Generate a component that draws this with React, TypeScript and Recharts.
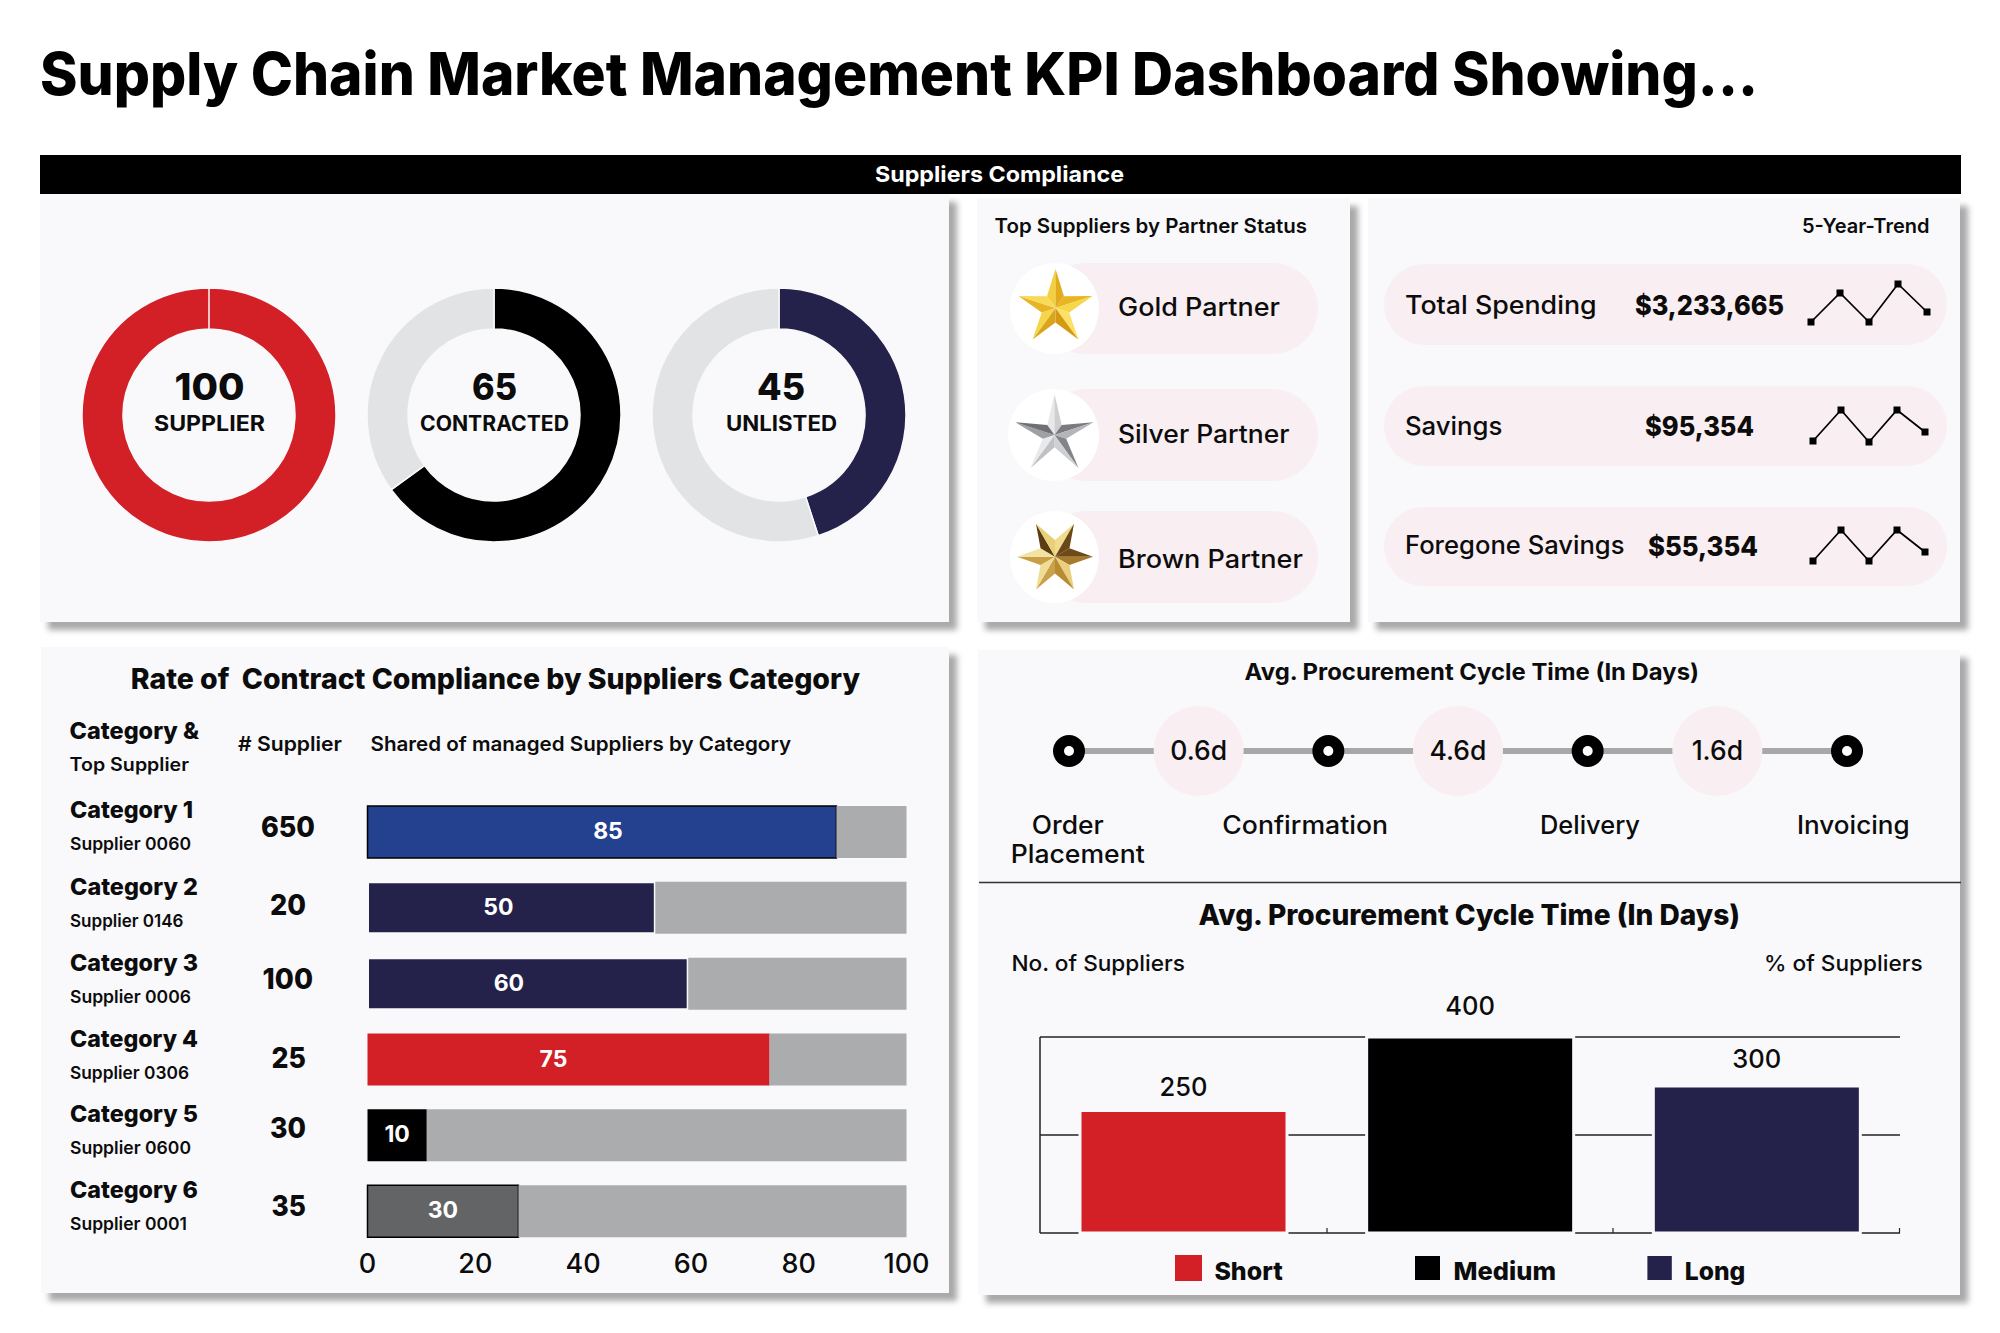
import React from 'react';
import { PieChart, Pie, Cell, BarChart, Bar, XAxis, YAxis, CartesianGrid, LabelList, LineChart, Line } from 'recharts';

// ---- data ----
const titleText = 'Supply Chain Market Management KPI Dashboard Showing...';
const supplierShare = [100];
const contractedShare = [65, 35];
const unlistedShare = [45, 55];

const trendYears = ['Y1', 'Y2', 'Y3', 'Y4', 'Y5'];
const spendingTrend = [8, 37, 8, 46, 18];
const savingsTrend = [9, 40, 8, 40, 18];
const foregoneTrend = [9, 40, 9, 40, 18];

const categories = ['Category 1', 'Category 2', 'Category 3', 'Category 4', 'Category 5', 'Category 6'];
const topSuppliers = ['Supplier 0060', 'Supplier 0146', 'Supplier 0006', 'Supplier 0306', 'Supplier 0600', 'Supplier 0001'];
const supplierCounts = ['650', '20', '100', '25', '30', '35'];
const complianceLabels = [85, 50, 60, 75, 10, 30];
const complianceDrawn = [87, 53.4, 59.5, 74.6, 11, 28];
const complianceRest = [13, 46.6, 40.5, 25.4, 89, 72];
const complianceTicks = [0, 20, 40, 60, 80, 100];

const stageNames = ['Order Placement', 'Confirmation', 'Delivery', 'Invoicing'];
const stageLags = ['0.6d', '4.6d', '1.6d'];

const cycleNames = ['Short', 'Medium', 'Long'];
const cycleValues = [250, 400, 300];
const cycleTicks = [0, 200, 400];

// ---- styles ----
const FONT = 'Inter, "Open Sans", sans-serif';
const RED = '#d31f26';
const NAVY = '#24214a';
const BLUE = '#24418f';
const GREY = '#aaacae';
const RING = '#e1e3e5';
const PANEL = '#f9f9fc';
const PINK = '#f9eef1';
const INK = '#0c0c0c';
const complianceColors = [BLUE, NAVY, NAVY, RED, '#000000', '#636466'];
const complianceOutline = ['#000', PANEL, PANEL, 'none', 'none', '#000'];
const complianceOutlineWidth = [1.5, 3, 3, 0, 0, 1.5];
const complianceLabelNudge = [6, -13, -19, -15, 0, 0];
const cycleColors = [RED, '#000000', NAVY];
const cycleLabelRaise = [15, 22, 18];
const goldFacets = ['#f4d03f', '#e0ab1f', '#e8b623', '#f6d64a', '#ffe066', '#d49a14', '#d9a51c', '#f5d54a', '#e8b425', '#f7da55'];
const silverFacets = ['#e8e8ea', '#cfcfd2', '#7a7b7e', '#b4b5b8', '#838487', '#cfd0d3', '#c0c1c4', '#e9e9eb', '#9fa0a3', '#6f7073'];
const brownFacets = ['#6d4a16', '#a87a2c', '#e9cf7e', '#b88b33', '#c9a14a', '#f0dd94', '#c99e45', '#f3e3a0', '#5a3d10', '#e8d079', '#f0db8f', '#6a4815'];

const complianceTable = categories.map((name, i) => ({
  name,
  drawn: complianceDrawn[i],
  rest: complianceRest[i],
  label: complianceLabels[i],
}));
const cycleTable = cycleNames.map((name, i) => ({ name, value: cycleValues[i] }));
const stageTable = stageNames.flatMap((name, i) => {
  const node = { name, level: 1, lag: '' };
  return i < stageLags.length ? [node, { name: stageLags[i], level: 1, lag: stageLags[i] }] : [node];
});
const toTrend = (values: number[]) => trendYears.map((year, i) => ({ year, value: values[i] }));

const box = (x0: number, y0: number, x1: number, y1: number): React.CSSProperties => ({
  position: 'absolute', left: x0, top: y0, width: x1 - x0, height: y1 - y0,
});

function Panel({ r }: { r: number[] }) {
  return <div style={{ ...box(r[0], r[1], r[2], r[3]), background: PANEL, boxShadow: '8px 8px 6px #a9a9a9' }} />;
}
function Pill({ r }: { r: number[] }) {
  return <div style={{ ...box(r[0], r[1], r[2], r[3]), background: PINK, borderRadius: 46 }} />;
}

function T({ x, y, w, s, b = 600, fill = INK, children }: any) {
  return (
    <text x={x} y={y} fontSize={s} fontWeight={b} fill={fill} fontFamily={FONT}
      textLength={w} lengthAdjust="spacingAndGlyphs">
      {children}
    </text>
  );
}

function Donut({ cx, data, colors }: { cx: number; data: number[]; colors: string[] }) {
  const rows = data.map((value, i) => ({ name: String(i), value }));
  return (
    <div style={{ position: 'absolute', left: cx - 140, top: 275 }}>
      <PieChart width={280} height={280} margin={{ top: 0, right: 0, bottom: 0, left: 0 }}>
        <Pie data={rows} dataKey="value" cx={140} cy={140} innerRadius={86} outerRadius={127}
          startAngle={90} endAngle={-270} stroke={PANEL} strokeWidth={1.5} isAnimationActive={false}>
          {rows.map((_, i) => <Cell key={i} fill={colors[i]} />)}
        </Pie>
      </PieChart>
    </div>
  );
}

const SquareDot = (p: any) => (
  <rect key={p.index} x={p.cx - 3.5} y={p.cy - 3.5} width={7} height={7} fill="#000" />
);

function Spark({ left, top, width, values }: { left: number; top: number; width: number; values: number[] }) {
  return (
    <div style={{ position: 'absolute', left: left - 6, top }}>
      <LineChart width={width + 12} height={60} data={toTrend(values)} margin={{ top: 0, right: 6, bottom: 0, left: 6 }}>
        <XAxis dataKey="year" hide />
        <YAxis hide domain={[0, 60]} />
        <Line dataKey="value" stroke="#000" strokeWidth={1.7} dot={SquareDot} activeDot={false} isAnimationActive={false} />
      </LineChart>
    </div>
  );
}

const StageDot = (p: any) => {
  const lag = p.payload.lag;
  if (lag) {
    return (
      <g key={p.index}>
        <circle cx={p.cx} cy={p.cy} r={45} fill={PINK} />
        <text x={p.cx} y={p.cy + 9} textAnchor="middle" fontSize={26.5} fontWeight={500} fill={INK} fontFamily={FONT}>{lag}</text>
      </g>
    );
  }
  return (
    <g key={p.index}>
      <circle cx={p.cx} cy={p.cy} r={16} fill="#000" />
      <circle cx={p.cx} cy={p.cy} r={5} fill="#fff" />
    </g>
  );
};

function Star({ cx, cy, R, inner, points, rot, facets }: any) {
  const n = points;
  const rIn = R * inner;
  const out: React.ReactNode[] = [];
  for (let i = 0; i < n; i++) {
    const a = rot + (i * 2 * Math.PI) / n;
    const a0 = a - Math.PI / n;
    const a1 = a + Math.PI / n;
    const tip = `${cx + R * Math.cos(a)},${cy + R * Math.sin(a)}`;
    const l = `${cx + rIn * Math.cos(a0)},${cy + rIn * Math.sin(a0)}`;
    const r = `${cx + rIn * Math.cos(a1)},${cy + rIn * Math.sin(a1)}`;
    const c = `${cx},${cy}`;
    out.push(<polygon key={`${i}a`} points={`${c} ${tip} ${l}`} fill={facets[2 * i]} />);
    out.push(<polygon key={`${i}b`} points={`${c} ${tip} ${r}`} fill={facets[2 * i + 1]} />);
  }
  return <g>{out}</g>;
}

const CycleLabel = (p: any) => (
  <text x={p.x + p.width / 2} y={p.y - cycleLabelRaise[p.index]} textAnchor="middle"
    fontSize={25.5} fontWeight={500} fill={INK} fontFamily={FONT}>{p.value}</text>
);

const ComplianceLabel = (p: any) => (
  <text x={p.x + p.width / 2 + complianceLabelNudge[p.index]} y={p.y + p.height / 2 + 7} textAnchor="middle"
    fontSize={23} fontWeight={700} fill="#fff" fontFamily={FONT}>{p.value}</text>
);

const EmptyTick = () => <g />;

export default function App() {
  const catY = [818, 895, 971, 1046.5, 1122, 1197.5];
  const catW = [123, 128, 128, 128, 128, 128];
  const supY = [850, 927, 1003, 1079, 1154, 1230];
  const supW = [121, 113.5, 121, 119, 121, 117];
  const numY = [837, 915, 989, 1067.6, 1138, 1216];
  const numX = [261, 270, 262.6, 271.6, 270, 271.6];
  const numW = [54, 36, 50.4, 34.4, 36, 34.4];

  return (
    <div style={{ position: 'absolute', left: 0, top: 0, width: 2000, height: 1333, background: '#fff', overflow: 'hidden' }}>
      <Panel r={[40, 194, 949, 622]} />
      <Panel r={[977, 198, 1350, 622]} />
      <Panel r={[1368, 198, 1960, 622]} />
      <Panel r={[41, 647, 949, 1293]} />
      <Panel r={[978, 650, 1960, 1295]} />
      <div style={{ ...box(40, 155, 1961, 194), background: '#000' }} />

      <Pill r={[1040, 263, 1318, 354]} />
      <Pill r={[1040, 389, 1318, 481]} />
      <Pill r={[1040, 511, 1318, 603]} />
      <div style={{ ...box(1010, 263, 1099, 354), background: '#fff', borderRadius: '50%' }} />
      <div style={{ ...box(1008, 389, 1099, 481), background: '#fff', borderRadius: '50%' }} />
      <div style={{ ...box(1010, 511, 1099, 603), background: '#fff', borderRadius: '50%' }} />
      <Pill r={[1384, 264, 1947, 345]} />
      <Pill r={[1384, 386, 1947, 466]} />
      <Pill r={[1384, 507, 1947, 586]} />

      <Donut cx={209} data={supplierShare} colors={[RED]} />
      <Donut cx={494} data={contractedShare} colors={['#000000', RING]} />
      <Donut cx={779} data={unlistedShare} colors={[NAVY, RING]} />

      <Spark left={1811} top={270} width={116} values={spendingTrend} />
      <Spark left={1813} top={390} width={112} values={savingsTrend} />
      <Spark left={1813} top={510} width={112} values={foregoneTrend} />

      <div style={{ position: 'absolute', left: 340, top: 780 }}>
        <BarChart width={600} height={520} layout="vertical" data={complianceTable}
          margin={{ top: 14, right: 33.5, bottom: 0, left: 27.5 }} barSize={52}>
          <XAxis type="number" domain={[0, 100]} ticks={complianceTicks} height={51} axisLine={false} tickLine={false}
            tickSize={0} tickMargin={5} interval={0}
            tick={{ fontSize: 27, fontWeight: 500, fill: INK, fontFamily: FONT }} />
          <YAxis type="category" dataKey="name" hide />
          <Bar dataKey="drawn" stackId="a" isAnimationActive={false}>
            {complianceTable.map((_, i) => (
              <Cell key={i} fill={complianceColors[i]} stroke={complianceOutline[i]} strokeWidth={complianceOutlineWidth[i]} />
            ))}
            <LabelList dataKey="label" content={ComplianceLabel} />
          </Bar>
          <Bar dataKey="rest" stackId="a" fill={GREY} isAnimationActive={false} />
        </BarChart>
      </div>

      <div style={{ position: 'absolute', left: 1000, top: 691 }}>
        <LineChart width={920} height={120} data={stageTable} margin={{ top: 0, right: 73, bottom: 0, left: 69 }}>
          <XAxis dataKey="name" hide />
          <YAxis hide domain={[0, 2]} />
          <Line dataKey="level" stroke="#a8a8a8" strokeWidth={6} dot={StageDot} activeDot={false} isAnimationActive={false} />
        </LineChart>
      </div>

      <div style={{ position: 'absolute', left: 1030, top: 980 }}>
        <BarChart width={880} height={270} data={cycleTable} margin={{ top: 57, right: 10, bottom: 17, left: 9 }} barSize={207}>
          <CartesianGrid vertical={false} stroke="#222" strokeWidth={1.5} />
          <XAxis dataKey="name" hide />
          <YAxis domain={[0, 400]} ticks={cycleTicks} interval={0} width={1} tick={EmptyTick} tickLine={false}
            axisLine={{ stroke: '#222', strokeWidth: 1.5 }} />
          <Bar dataKey="value" stroke={PANEL} strokeWidth={3} isAnimationActive={false}>
            {cycleTable.map((_, i) => <Cell key={i} fill={cycleColors[i]} stroke={PANEL} strokeWidth={3} />)}
            <LabelList dataKey="value" content={CycleLabel} />
          </Bar>
        </BarChart>
      </div>

      <svg width={2000} height={1333} style={{ position: 'absolute', left: 0, top: 0, pointerEvents: 'none' }}>
        <T x={40} y={95} w={1718} s={59} b={800} fill="#000">{titleText}</T>
        <T x={875} y={182} w={249} s={22} b={700} fill="#fff">Suppliers Compliance</T>

        <T x={174.5} y={400} w={70} s={37} b={800}>100</T>
        <T x={154} y={431} w={111} s={21} b={700}>SUPPLIER</T>
        <T x={472} y={400} w={45} s={37} b={800}>65</T>
        <T x={420} y={431} w={149} s={21} b={700}>CONTRACTED</T>
        <T x={757} y={400} w={48} s={37} b={800}>45</T>
        <T x={726} y={431} w={111} s={21} b={700}>UNLISTED</T>

        <T x={994.5} y={233} w={312.5} s={20} b={600}>Top Suppliers by Partner Status</T>
        <T x={1802} y={233} w={127.5} s={20} b={600}>5-Year-Trend</T>
        <Star cx={1055.5} cy={308} R={39} inner={0.37} points={5} rot={-Math.PI / 2} facets={goldFacets} />
        <Star cx={1054.5} cy={435} R={41} inner={0.3} points={5} rot={-Math.PI / 2} facets={silverFacets} />
        <Star cx={1055} cy={556.7} R={38} inner={0.44} points={6} rot={0} facets={brownFacets} />
        <T x={1118} y={316} w={162} s={25} b={500}>Gold Partner</T>
        <T x={1118} y={443} w={171.5} s={25} b={500}>Silver Partner</T>
        <T x={1118} y={568} w={185} s={25} b={500}>Brown Partner</T>

        <T x={1405} y={314} w={191.6} s={25} b={500}>Total Spending</T>
        <T x={1635} y={315} w={149} s={27} b={800}>$3,233,665</T>
        <T x={1405} y={435} w={97.4} s={25} b={500}>Savings</T>
        <T x={1645} y={436} w={109} s={27} b={800}>$95,354</T>
        <T x={1405} y={554} w={219.5} s={25} b={500}>Foregone Savings</T>
        <T x={1648} y={556} w={110} s={27} b={800}>$55,354</T>

        <T x={130.7} y={689} w={729.3} s={28} b={800}>{'Rate of \u00a0Contract Compliance by Suppliers Category'}</T>
        <T x={69.6} y={739} w={129.4} s={23} b={800}>Category &amp;</T>
        <T x={69.6} y={770.6} w={119.4} s={18} b={600}>Top Supplier</T>
        <T x={238} y={751} w={104} s={20} b={600}># Supplier</T>
        <T x={370.5} y={751} w={420.5} s={20} b={600}>Shared of managed Suppliers by Category</T>
        {categories.map((c, i) => (
          <T key={c} x={70} y={catY[i]} w={catW[i]} s={23} b={800}>{c}</T>
        ))}
        {topSuppliers.map((c, i) => (
          <T key={c} x={70} y={supY[i]} w={supW[i]} s={17.5} b={600}>{c}</T>
        ))}
        {supplierCounts.map((c, i) => (
          <T key={i} x={numX[i]} y={numY[i]} w={numW[i]} s={29} b={800}>{c}</T>
        ))}

        <T x={1244.6} y={680.3} w={454.4} s={22.5} b={700}>Avg. Procurement Cycle Time (In Days)</T>
        <T x={1031.8} y={834} w={72} s={25} b={500}>Order</T>
        <T x={1010.7} y={863.4} w={134} s={25} b={500}>Placement</T>
        <T x={1222.3} y={834} w={165.7} s={25} b={500}>Confirmation</T>
        <T x={1540} y={834} w={100} s={25} b={500}>Delivery</T>
        <T x={1797} y={834} w={112.6} s={25} b={500}>Invoicing</T>
        <line x1={979} y1={882.5} x2={1961} y2={882.5} stroke="#333" strokeWidth={1.3} />
        <T x={1198.6} y={925} w={541.4} s={28} b={800}>Avg. Procurement Cycle Time (In Days)</T>
        <T x={1011.4} y={971} w={173.6} s={22} b={500}>No. of Suppliers</T>
        <T x={1764} y={971} w={158.7} s={22} b={500}>% of Suppliers</T>

        {[1327, 1613, 1899.5].map((x) => (
          <line key={x} x1={x} y1={1228} x2={x} y2={1233} stroke="#222" strokeWidth={1.2} />
        ))}

        <rect x={1175} y={1255} width={27} height={26} fill={RED} />
        <T x={1214.4} y={1280} w={68.3} s={25} b={800}>Short</T>
        <rect x={1415} y={1256} width={25} height={24} fill="#000" />
        <T x={1453.6} y={1280} w={102.4} s={25} b={800}>Medium</T>
        <rect x={1647.4} y={1256} width={24.4} height={24} fill={NAVY} />
        <T x={1684.8} y={1280} w={60.5} s={25} b={800}>Long</T>
      </svg>
    </div>
  );
}
